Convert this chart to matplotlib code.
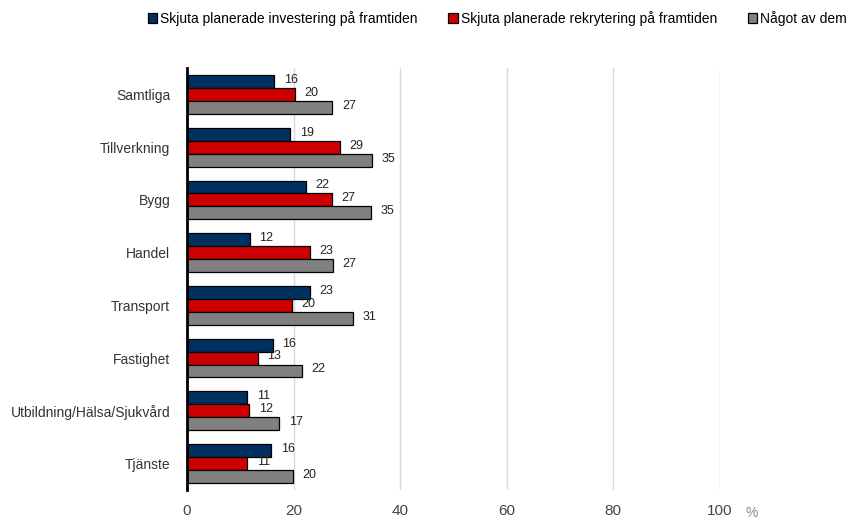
import numpy as np
import matplotlib
matplotlib.use('Agg')
from matplotlib import pyplot as plt
from matplotlib.patches import Patch

categories = ['Samtliga', 'Tillverkning', 'Bygg', 'Handel', 'Transport',
              'Fastighet', 'Utbildning/Hälsa/Sjukvård', 'Tjänste']
investering = [16.4, 19.4, 22.3, 11.8, 23.1, 16.1, 11.3, 15.8]
rekrytering = [20.2, 28.7, 27.2, 23.1, 19.7, 13.3, 11.7, 11.3]
nagot = [27.3, 34.8, 34.6, 27.4, 31.1, 21.6, 17.3, 19.9]
series_names = ['Skjuta planerade investering på framtiden',
                'Skjuta planerade rekrytering på framtiden',
                'Något av dem']
colors = ['#00305f', '#cc0000', '#808080']
xticks = [0, 20, 40, 60, 80, 100]

plt.rcParams['font.family'] = ['Liberation Sans', 'DejaVu Sans']

fig = plt.figure(figsize=(8.5, 5.2), dpi=100)
ax = fig.add_axes([0.22, 0.058, 0.627, 0.811])

y = np.arange(len(categories))
h = 0.245
for i, (vals, col) in enumerate(zip([investering, rekrytering, nagot], colors)):
    pos = y + (i - 1) * h
    ax.barh(pos, vals, height=h, color=col, edgecolor='black', linewidth=0.9, zorder=3)
    for p, v in zip(pos, vals):
        ax.text(v + 1.8, p - 0.03, str(int(round(v))), va='center', ha='left',
                fontsize=9, color='#222222', zorder=4)

ax.set_ylim(len(categories) - 0.5, -0.5)
ax.set_xlim(0, 100)
ax.set_yticks(y)
ax.set_yticklabels(categories, fontsize=10, color='#333333')
ax.set_xticks(xticks)
ax.set_xticklabels([str(t) for t in xticks], fontsize=11, color='#444444')
ax.tick_params(axis='y', length=0, pad=12)
ax.tick_params(axis='x', length=0, pad=10)
ax.grid(axis='x', color='#d9d9d9', linewidth=1, zorder=0)
for s in ['top', 'right', 'bottom']:
    ax.spines[s].set_visible(False)
ax.spines['left'].set_linewidth(2)
ax.spines['left'].set_color('black')
ax.spines['left'].set_zorder(5)

fig.text(752 / 850, 1 - 513 / 520, '%', fontsize=10, color='#888888', ha='center', va='center')

handles = [Patch(facecolor=c, edgecolor='black', linewidth=0.9) for c in colors]
fig.legend(handles, series_names, loc='center', bbox_to_anchor=(0.585, 0.965), ncol=3,
           frameon=False, fontsize=10, handlelength=0.7, handleheight=0.7,
           handletextpad=0.2, columnspacing=2.2)

fig.savefig('out.png', dpi=100)
